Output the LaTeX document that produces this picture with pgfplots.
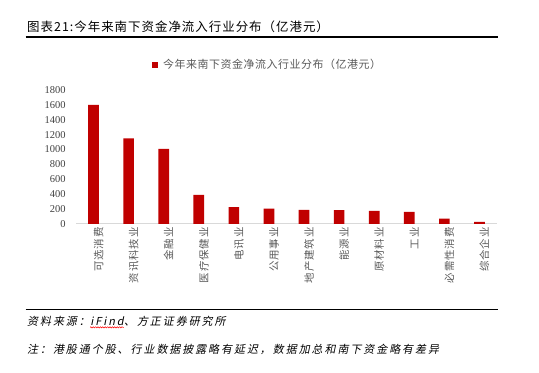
\documentclass[border=0pt]{standalone}
\usepackage{fontspec}
\setmainfont{Liberation Serif}
\newfontfamily\cjk{Noto Sans CJK SC}
\newfontfamily\cjktitle{Noto Sans CJK SC}[LetterSpace=8]
\newfontfamily\cjkleg{Noto Sans CJK SC}[LetterSpace=5]
\newfontfamily\cjktick{Noto Sans CJK SC}[LetterSpace=8]
\newfontfamily\cjkit{Noto Sans CJK SC}[FakeSlant=0.2, LetterSpace=18]
\usepackage{pgfplots}
\pgfplotsset{compat=1.18}
\usetikzlibrary{decorations.pathmorphing}
\definecolor{barred}{HTML}{C00000}
\definecolor{txtgray}{HTML}{595959}
\definecolor{numgray}{HTML}{404040}
\begin{document}
\begin{tikzpicture}
\useasboundingbox (0,0) rectangle (539bp,373bp);
\node[anchor=west, inner sep=0] at (27bp,346bp) {\cjktitle\fontsize{12.5}{14}\selectfont 图表21:今年来南下资金净流入行业分布（亿港元）};
\draw[line width=2bp] (25.7bp,335.7bp) -- (498.3bp,335.7bp);
\begin{axis}[
  at={(76bp,149bp)}, anchor=south west,
  scale only axis, width=421bp, height=134bp,
  xmin=-0.5, xmax=11.5, ymin=0, ymax=1800,
  axis x line*=bottom, axis y line*=left,
  axis line style={-},
  y axis line style={draw=none},
  x axis line style={draw=black!15, line width=1bp},
  major tick length=0pt,
  ytick={0,200,...,1800},
  xtick={0,...,11},
  xticklabels={可选消费,资讯科技业,金融业,医疗保健业,电讯业,公用事业,地产建筑业,能源业,原材料业,工业,必需性消费,综合企业},
  xticklabel style={rotate=90, anchor=east, yshift=-5bp, font=\cjktick\fontsize{10.5}{12}\selectfont, text=txtgray},
  yticklabel style={font=\fontsize{10.5}{12}\selectfont, text=numgray, xshift=-7bp},
  /pgf/number format/assume math mode=true,
  /pgf/number format/1000 sep={},
  legend style={draw=none, fill=none, at={(0.173,1.187)}, anchor=west, font=\cjkleg\fontsize{11}{13}\selectfont, text=txtgray},
  legend image code/.code={\fill[barred] (0bp,-3bp) rectangle (6bp,3bp); \path (9bp,0bp);},
]
\addplot[ybar, bar width=10.7bp, fill=barred, draw=none] coordinates {
(0,1600) (1,1150) (2,1010) (3,390) (4,225) (5,205) (6,190) (7,185) (8,177) (9,162) (10,72) (11,27)};
\addlegendentry{今年来南下资金净流入行业分布（亿港元）}
\end{axis}
\draw[line width=1.2bp] (25.7bp,63.7bp) -- (498.3bp,63.7bp);
\node[anchor=west, inner sep=0] (s1) at (27bp,51.3bp) {\cjkit\fontsize{11}{13}\selectfont 资料来源：};
\node[anchor=west, inner sep=0] (s2) at (s1.east) {\cjkit\fontsize{11}{13}\selectfont iFind};
\node[anchor=west, inner sep=0] (s3) at (s2.east) {\cjkit\fontsize{11}{13}\selectfont 、方正证券研究所};
\draw[red, line width=0.5bp, decorate, decoration={snake, amplitude=0.6bp, segment length=2.4bp}] ([yshift=-1bp]s2.south west) -- ([yshift=-1bp]s2.south east);
\node[anchor=west, inner sep=0] at (27bp,23.7bp) {\cjkit\fontsize{11}{13}\selectfont 注：港股通个股、行业数据披露略有延迟，数据加总和南下资金略有差异};
\end{tikzpicture}
\end{document}
